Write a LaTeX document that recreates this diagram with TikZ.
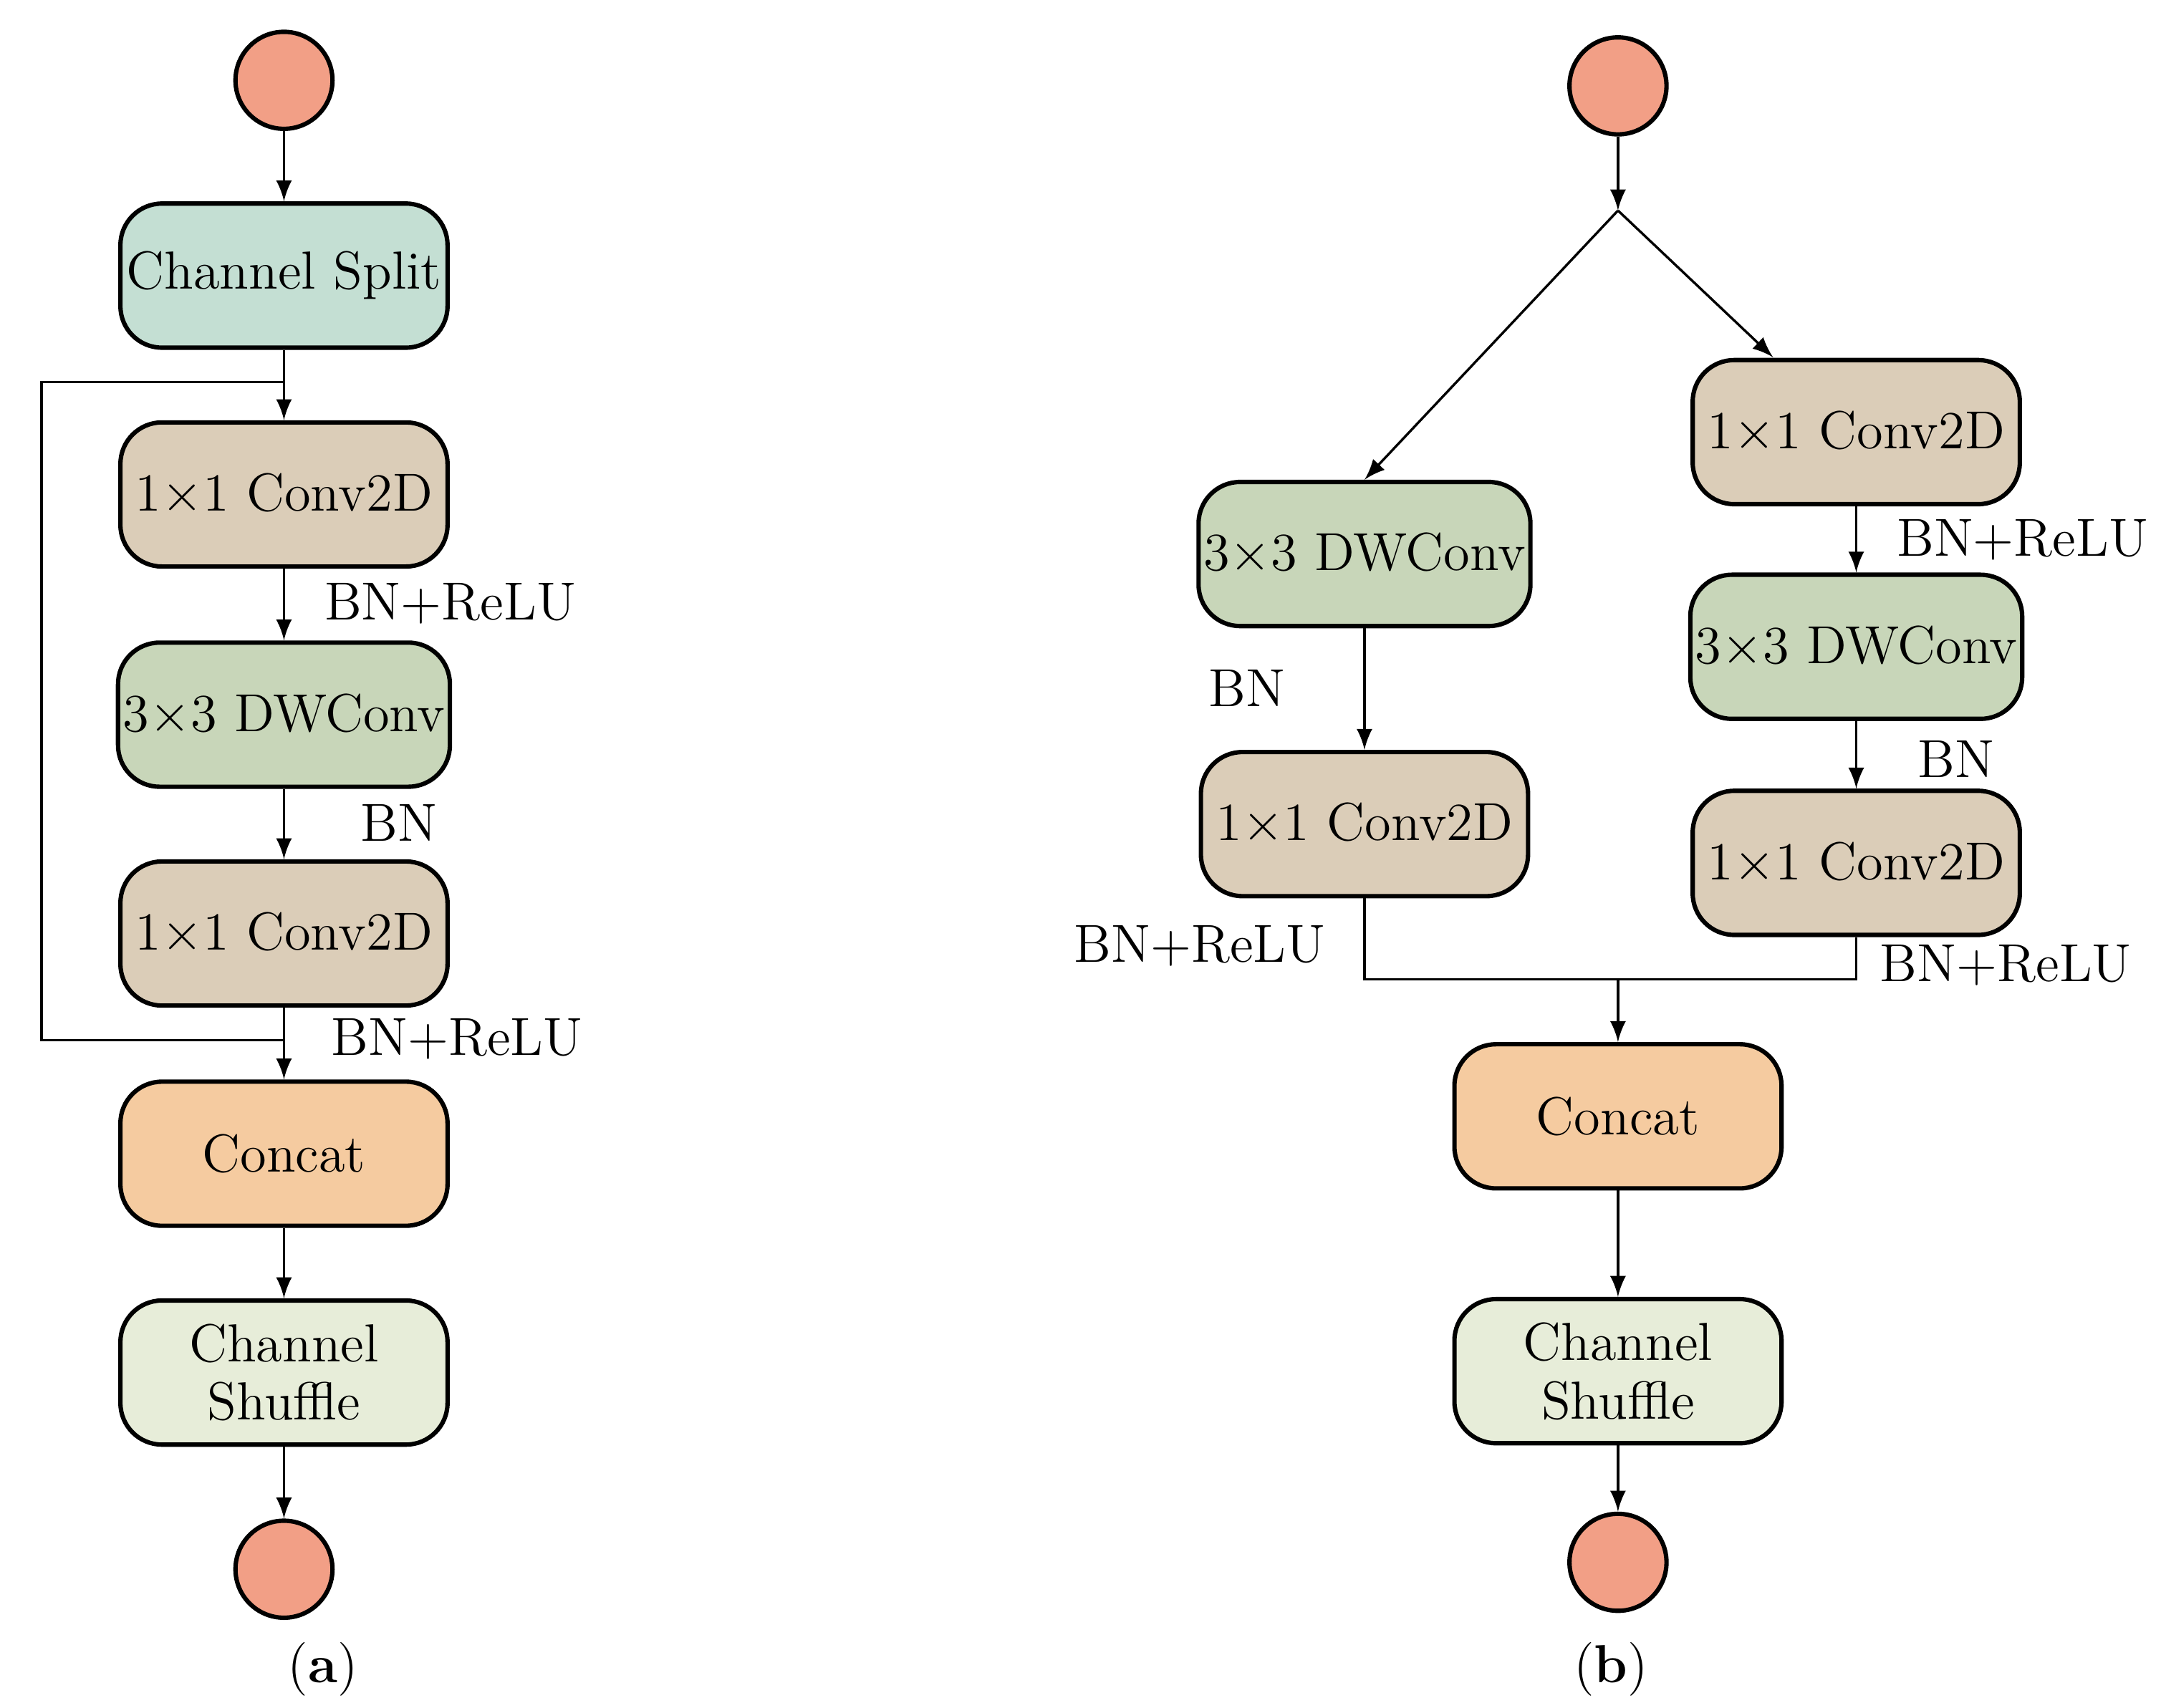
\documentclass[tikz,border=0pt]{standalone}
\usepackage{tikz}
\usetikzlibrary{arrows,positioning}
\definecolor{dotc}{HTML}{F29F86}
\definecolor{splitc}{HTML}{C4DFD3}
\definecolor{convc}{HTML}{DBCDB8}
\definecolor{dwc}{HTML}{C8D6B9}
\definecolor{catc}{HTML}{F5CBA0}
\definecolor{shufc}{HTML}{E7EDD9}
\tikzset{
  blk/.style = {draw=black, line width=0.9pt, rounded corners=0.3cm,
    minimum width=2.36cm, minimum height=1.04cm, align=center,
    inner sep=1pt, font=\fontsize{11}{12}\selectfont},
  dot/.style = {circle, draw=black, line width=0.9pt, fill=dotc,
    minimum size=0.7cm},
  lbl/.style = {font=\fontsize{11}{12}\selectfont},
  ln/.style = {line width=0.5pt}
}
\begin{document}
\begin{tikzpicture}[x=0.01cm,y=-0.01cm,>=latex]
\useasboundingbox (0,0) rectangle (1560,1233);
% (a)
\node [dot] (ain) at (205,58) {};
\node [blk, fill=splitc] (asplit) at (205,199) {Channel Split};
\node [blk, fill=convc] (aconv1) at (205,357) {1$\times$1 Conv2D};
\node [blk, fill=dwc] (adw) at (205,516) {3$\times$3 DWConv};
\node [blk, fill=convc] (aconv2) at (205,674) {1$\times$1 Conv2D};
\node [blk, fill=catc] (acat) at (205,833) {Concat};
\node [blk, fill=shufc] (ashuf) at (205,991) {Channel\\Shuffle};
\node [dot] (aout) at (205,1133) {};
\coordinate (asp) at (205,276);
\coordinate (ajn) at (205,751);
\draw [ln,->] (ain) -- (asplit);
\draw [ln,->] (asplit) -- (aconv1);
\draw [ln,->] (aconv1) -- (adw);
\draw [ln,->] (adw) -- (aconv2);
\draw [ln,->] (aconv2) -- (acat);
\draw [ln,->] (acat) -- (ashuf);
\draw [ln,->] (ashuf) -- (aout);
\draw [ln] (asp) -- (30,276) -- (30,751) -- (ajn);
\node [lbl] (albl1) at (325,436) {BN+ReLU};
\node [lbl] (albl2) at (288,594) {BN};
\node [lbl] (albl3) at (330,750) {BN+ReLU};
\node [lbl] (acap) at (233,1205) {(\textbf{a})};
% (b)
\node [dot] (bin) at (1168,62) {};
\coordinate (bfork) at (1168,152);
\node [blk, fill=dwc] (bldw) at (985,400) {3$\times$3 DWConv};
\node [blk, fill=convc] (blconv) at (985,595) {1$\times$1 Conv2D};
\node [blk, fill=convc] (brconv1) at (1340,312) {1$\times$1 Conv2D};
\node [blk, fill=dwc] (brdw) at (1340,467) {3$\times$3 DWConv};
\node [blk, fill=convc] (brconv2) at (1340,623) {1$\times$1 Conv2D};
\node [blk, fill=catc] (bcat) at (1168,806) {Concat};
\node [blk, fill=shufc] (bshuf) at (1168,990) {Channel\\Shuffle};
\node [dot] (bout) at (1168,1128) {};
\coordinate (bjn) at (1168,707);
\draw [ln,->] (bin) -- (bfork);
\draw [ln,->] (bfork) -- (bldw.north);
\draw [ln,->] (bfork) -- (1280,258);
\draw [ln,->] (bldw) -- (blconv);
\draw [ln,->] (brconv1) -- (brdw);
\draw [ln,->] (brdw) -- (brconv2);
\draw [ln] (blconv.south) -- (985,707) -- (1340,707) -- (brconv2.south);
\draw [ln,->] (bjn) -- (bcat);
\draw [ln,->] (bcat) -- (bshuf);
\draw [ln,->] (bshuf) -- (bout);
\node [lbl] (blbl1) at (900,497) {BN};
\node [lbl] (blbl2) at (866,683) {BN+ReLU};
\node [lbl] (blbl3) at (1460,390) {BN+ReLU};
\node [lbl] (blbl4) at (1412,548) {BN};
\node [lbl] (blbl5) at (1448,697) {BN+ReLU};
\node [lbl] (bcap) at (1163,1205) {(\textbf{b})};
\end{tikzpicture}
\end{document}
